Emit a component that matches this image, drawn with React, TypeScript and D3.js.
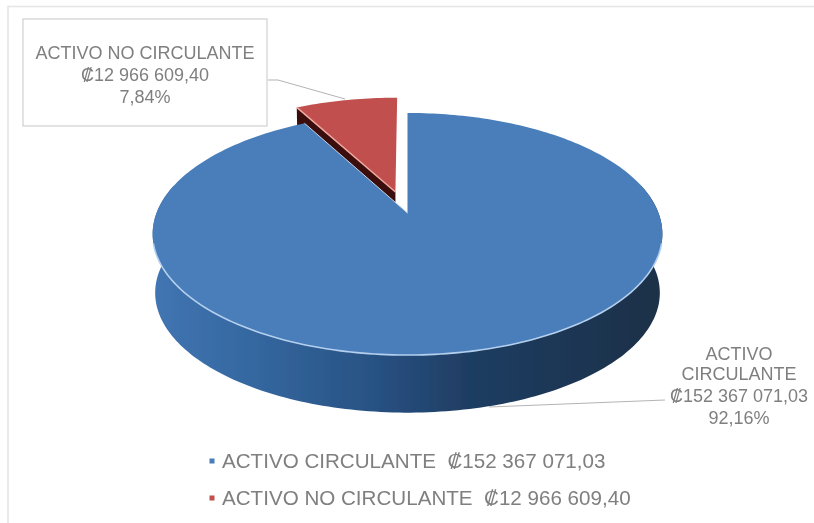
import React from "react";
import * as d3 from "d3";

const categories = ["ACTIVO CIRCULANTE", "ACTIVO NO CIRCULANTE"];
const values = [152367071.03, 12966609.4];
const amountLabels = ["₡152 367 071,03", "₡12 966 609,40"];
const percentLabels = ["92,16%", "7,84%"];
const topColors = ["#4a7ebb", "#c0504d"];
const rimColors = ["#b5d0ee", "#f0a8a0"];

const W = 814;
const H = 523;
const cx = 407.5;
const cy = 213;
const a = 251;
const b = 117.4;
const p = 0.1736;
const explode = 0.175;
const depthShift = 59;
const depthScale = 0.99;
const FONT = "'Liberation Sans', Arial, sans-serif";
const TEXT = "#7f7f7f";

type Pt = [number, number];

function project(u: number, v: number, bottom = false): Pt {
  const k = 1 / (1 - p * v);
  const s = bottom ? depthScale : 1;
  return [cx + s * a * u * k, cy + s * b * v * k + (bottom ? depthShift : 0)];
}

function arcPts(a0: number, a1: number, ou = 0, ov = 0, bottom = false): Pt[] {
  const n = Math.max(2, Math.ceil(Math.abs(a1 - a0) / 0.02));
  return d3.range(n + 1).map((i) => {
    const t = a0 + ((a1 - a0) * i) / n;
    return project(Math.sin(t) + ou, -Math.cos(t) + ov, bottom);
  });
}

const line = d3.line<Pt>();

export default function App() {
  const arcs = d3
    .pie<number>()
    .sort(null)
    .startAngle(0)
    .endAngle(2 * Math.PI)(values);
  const blue = arcs[0];
  const red = arcs[1];

  const rm = (red.startAngle + red.endAngle) / 2;
  const ou = Math.sin(rm) * explode - 0.007;
  const ov = -Math.cos(rm) * explode - 0.015;

  const blueRim = arcPts(blue.startAngle, blue.endAngle);
  const blueTop: Pt[] = [project(0, 0), ...blueRim];

  const redRim = arcPts(red.startAngle, red.endAngle, ou, ov);
  const redApex = project(ou, ov);
  const redTop: Pt[] = [redApex, ...redRim];
  const redBottomApex = project(ou, ov, true);
  const redSide: Pt[] = [
    redApex,
    redRim[0],
    project(Math.sin(red.startAngle) + ou, -Math.cos(red.startAngle) + ov, true),
    redBottomApex,
  ];

  // visible wall of the blue slice, running around the front
  const frontA = Math.PI / 2 - 0.25;
  const frontB = (3 * Math.PI) / 2 + 0.25;
  const blueSide: Pt[] = [
    ...arcPts(frontA, frontB),
    ...arcPts(frontB, frontA, 0, 0, true),
  ];
  const frontRim = arcPts(Math.PI / 2 + 0.25, (3 * Math.PI) / 2 - 0.25);

  const boxLines = [categories[1], amountLabels[1], percentLabels[1]];
  const blueLines = ["ACTIVO", "CIRCULANTE", amountLabels[0], percentLabels[0]];

  return (
    <svg
      width={W}
      height={H}
      viewBox={`0 0 ${W} ${H}`}
      style={{ position: "absolute", left: 0, top: 0, background: "#fff" }}
      fontFamily={FONT}
    >
      <defs>
        <linearGradient id="wall" gradientUnits="userSpaceOnUse" x1={153} x2={662} y1={0} y2={0}>
          <stop offset="0" stopColor="#4175b2" />
          <stop offset="0.2" stopColor="#34679f" />
          <stop offset="0.45" stopColor="#275081" />
          <stop offset="0.62" stopColor="#1f3d62" />
          <stop offset="1" stopColor="#1b3048" />
        </linearGradient>
        <filter id="soft" x="-2%" y="-2%" width="104%" height="104%">
          <feGaussianBlur stdDeviation="0.5" />
        </filter>
      </defs>

      <path d={`M8 523V6.5H814`} fill="none" stroke="#e4e4e4" strokeWidth={1.5} />

      <g filter="url(#soft)">
        <path d={line(redSide) + "Z"} fill="#3b100f" />
        <path d={line(redTop) + "Z"} fill={topColors[1]} />
        <path d={line([redRim[0], redApex])!} fill="none" stroke={rimColors[1]} strokeWidth={1.5} />

        <path d={line(blueSide) + "Z"} fill="url(#wall)" />
        <path d={line(blueTop) + "Z"} fill={topColors[0]} />
        <path d={line(frontRim)!} fill="none" stroke={rimColors[0]} strokeWidth={1.6} />
        <path
          d={line([blueRim[blueRim.length - 1], project(0, 0)])!}
          fill="none"
          stroke="#c3d4e8"
          strokeWidth={1}
        />

        <path d="M268 80H278L345 99" fill="none" stroke="#b3b3b3" strokeWidth={1} />
        <path d="M489 407L665 400" fill="none" stroke="#b3b3b3" strokeWidth={1} />

        <rect x={23} y={19} width={244} height={107} fill="#fff" stroke="#d0d0d0" strokeWidth={1.2} />
        {boxLines.map((t, i) => (
          <text key={t} x={145} y={[58.5, 81, 102.5][i]} textAnchor="middle" fontSize={18} fill={TEXT}>
            {t}
          </text>
        ))}

        {blueLines.map((t, i) => (
          <text key={t} x={739} y={[359.5, 380, 402, 424][i]} textAnchor="middle" fontSize={18} fill={TEXT}>
            {t}
          </text>
        ))}

        {categories.map((c, i) => (
          <g key={c}>
            <rect x={209.5} y={[458.5, 495.5][i]} width={5} height={5} fill={topColors[i]} />
            <text x={222} y={[467.5, 504.5][i]} fontSize={20.6} fill={TEXT} xmlSpace="preserve">
              {`${c}  ${amountLabels[i]}`}
            </text>
          </g>
        ))}
      </g>
    </svg>
  );
}
